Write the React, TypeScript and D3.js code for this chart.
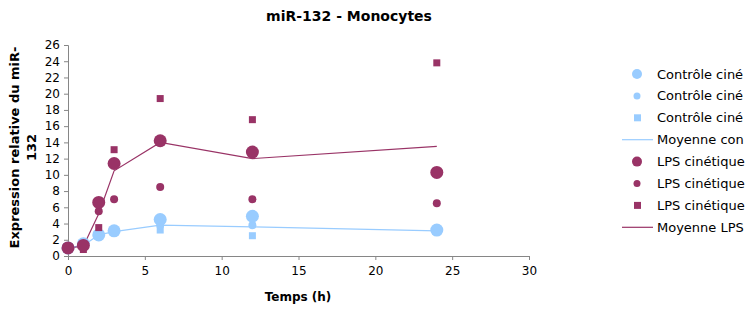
import * as d3 from "d3";
import { useEffect, useRef } from "react";

const times = [0, 1, 2, 3, 6, 12, 24];

const ctrl1 = [1.0, 1.5, 2.6, 3.1, 4.5, 4.9, 3.2];
const ctrl2 = [1.0, 1.2, 2.6, 3.0, 3.8, 3.8, 3.1];
const ctrl3 = [1.0, 1.3, 2.5, 2.9, 3.2, 2.5, 3.0];
const ctrlMean = [1.0, 1.3, 2.6, 3.0, 3.8, 3.6, 3.1];

const lps1 = [1.0, 1.3, 6.6, 11.4, 14.2, 12.8, 10.3];
const lps2 = [1.0, 1.5, 5.5, 7.0, 8.5, 7.0, 6.5];
const lps3 = [1.0, 0.8, 3.5, 13.1, 19.4, 16.8, 23.8];
const lpsMean = [1.0, 1.2, 5.2, 10.5, 14.0, 12.0, 13.5];

// legend texts as visible (cut by the chart's right edge in the original)
const legendLabels = [
  "Contrôle ciné",
  "Contrôle ciné",
  "Contrôle ciné",
  "Moyenne con",
  "LPS cinétique",
  "LPS cinétique",
  "LPS cinétique",
  "Moyenne LPS",
];

const xTicks = [0, 5, 10, 15, 20, 25, 30];
const yTicks = d3.range(0, 27, 2);

const BLUE = "#99ccff";
const PLUM = "#993366";

function App() {
  const ref = useRef<SVGSVGElement>(null);

  useEffect(() => {
    const svg = d3.select(ref.current);
    svg.selectAll("*").remove();

    const width = 747;
    const height = 309;
    const margin = { top: 45, left: 68, right: 218, bottom: 53 };
    const font = "'DejaVu Sans', Verdana, sans-serif";

    svg.attr("width", width).attr("height", height).style("font-family", font);

    const x = d3.scaleLinear().domain([0, 30]).range([margin.left, width - margin.right]);
    const y = d3.scaleLinear().domain([0, 26]).range([height - margin.bottom, margin.top]);

    // axes
    const xAxis = svg
      .append("g")
      .attr("transform", `translate(0,${y(0)})`)
      .call(d3.axisBottom(x).tickValues(xTicks).tickSize(4).tickPadding(6));
    const yAxis = svg
      .append("g")
      .attr("transform", `translate(${x(0)},0)`)
      .call(d3.axisLeft(y).tickValues(yTicks).tickSize(4).tickPadding(4));

    [xAxis, yAxis].forEach(a => {
      a.selectAll("path,line").attr("stroke", "#868686");
      a.selectAll("text").style("font-size", "12px").style("font-family", font).attr("fill", "#000");
    });

    // mean lines
    const line = d3
      .line<number>()
      .x((_, i) => x(times[i]))
      .y(d => y(d));

    svg.append("path").datum(ctrlMean).attr("d", line).attr("fill", "none").attr("stroke", BLUE).attr("stroke-width", 1.2);
    svg.append("path").datum(lpsMean).attr("d", line).attr("fill", "none").attr("stroke", PLUM).attr("stroke-width", 1.2);

    const circles = (vals: number[], r: number, color: string) =>
      svg
        .append("g")
        .selectAll("circle")
        .data(vals)
        .enter()
        .append("circle")
        .attr("cx", (_, i) => x(times[i]))
        .attr("cy", d => y(d))
        .attr("r", r)
        .attr("fill", color);

    const squares = (vals: number[], s: number, color: string) =>
      svg
        .append("g")
        .selectAll("rect")
        .data(vals)
        .enter()
        .append("rect")
        .attr("x", (_, i) => x(times[i]) - s / 2)
        .attr("y", d => y(d) - s / 2)
        .attr("width", s)
        .attr("height", s)
        .attr("fill", color);

    squares(ctrl3, 7, BLUE);
    circles(ctrl2, 4, BLUE);
    circles(ctrl1, 6.5, BLUE);
    squares(lps3, 7, PLUM);
    circles(lps2, 4, PLUM);
    circles(lps1, 6.5, PLUM);

    // legend
    const lg = svg.append("g");
    const kinds = ["big", "small", "square", "line", "big", "small", "square", "line"];
    legendLabels.forEach((label, i) => {
      const cy = 74 + i * 21.9;
      const color = i < 4 ? BLUE : PLUM;
      const k = kinds[i];
      if (k === "big") lg.append("circle").attr("cx", 637).attr("cy", cy).attr("r", 5).attr("fill", color);
      if (k === "small") lg.append("circle").attr("cx", 637).attr("cy", cy).attr("r", 3.5).attr("fill", color);
      if (k === "square") lg.append("rect").attr("x", 634).attr("y", cy - 3.5).attr("width", 7).attr("height", 7).attr("fill", color);
      if (k === "line") lg.append("line").attr("x1", 622).attr("x2", 653).attr("y1", cy).attr("y2", cy).attr("stroke", color).attr("stroke-width", 1.2);
      lg.append("text")
        .attr("x", 657)
        .attr("y", cy)
        .attr("dy", "0.35em")
        .style("font-size", "13px")
        .text(label);
    });

    // title & axis labels
    svg
      .append("text")
      .attr("x", 349)
      .attr("y", 21)
      .attr("text-anchor", "middle")
      .style("font-size", "14px")
      .style("font-weight", "bold")
      .text("miR-132 - Monocytes");

    svg
      .append("text")
      .attr("x", 298)
      .attr("y", 301)
      .attr("text-anchor", "middle")
      .style("font-size", "12px")
      .style("font-weight", "bold")
      .text("Temps (h)");

    const yl = svg
      .append("text")
      .attr("transform", `translate(19,${(y(0) + y(26)) / 2 - 3}) rotate(-90)`)
      .attr("text-anchor", "middle")
      .style("font-size", "13px")
      .style("font-weight", "bold");
    yl.append("tspan").attr("x", 0).attr("dy", 0).text("Expression relative du miR-");
    yl.append("tspan").attr("x", 0).attr("dy", "1.3em").text("132");
  }, []);

  return <svg ref={ref} style={{ position: "absolute", left: 0, top: 0 }} />;
}

export default App;
